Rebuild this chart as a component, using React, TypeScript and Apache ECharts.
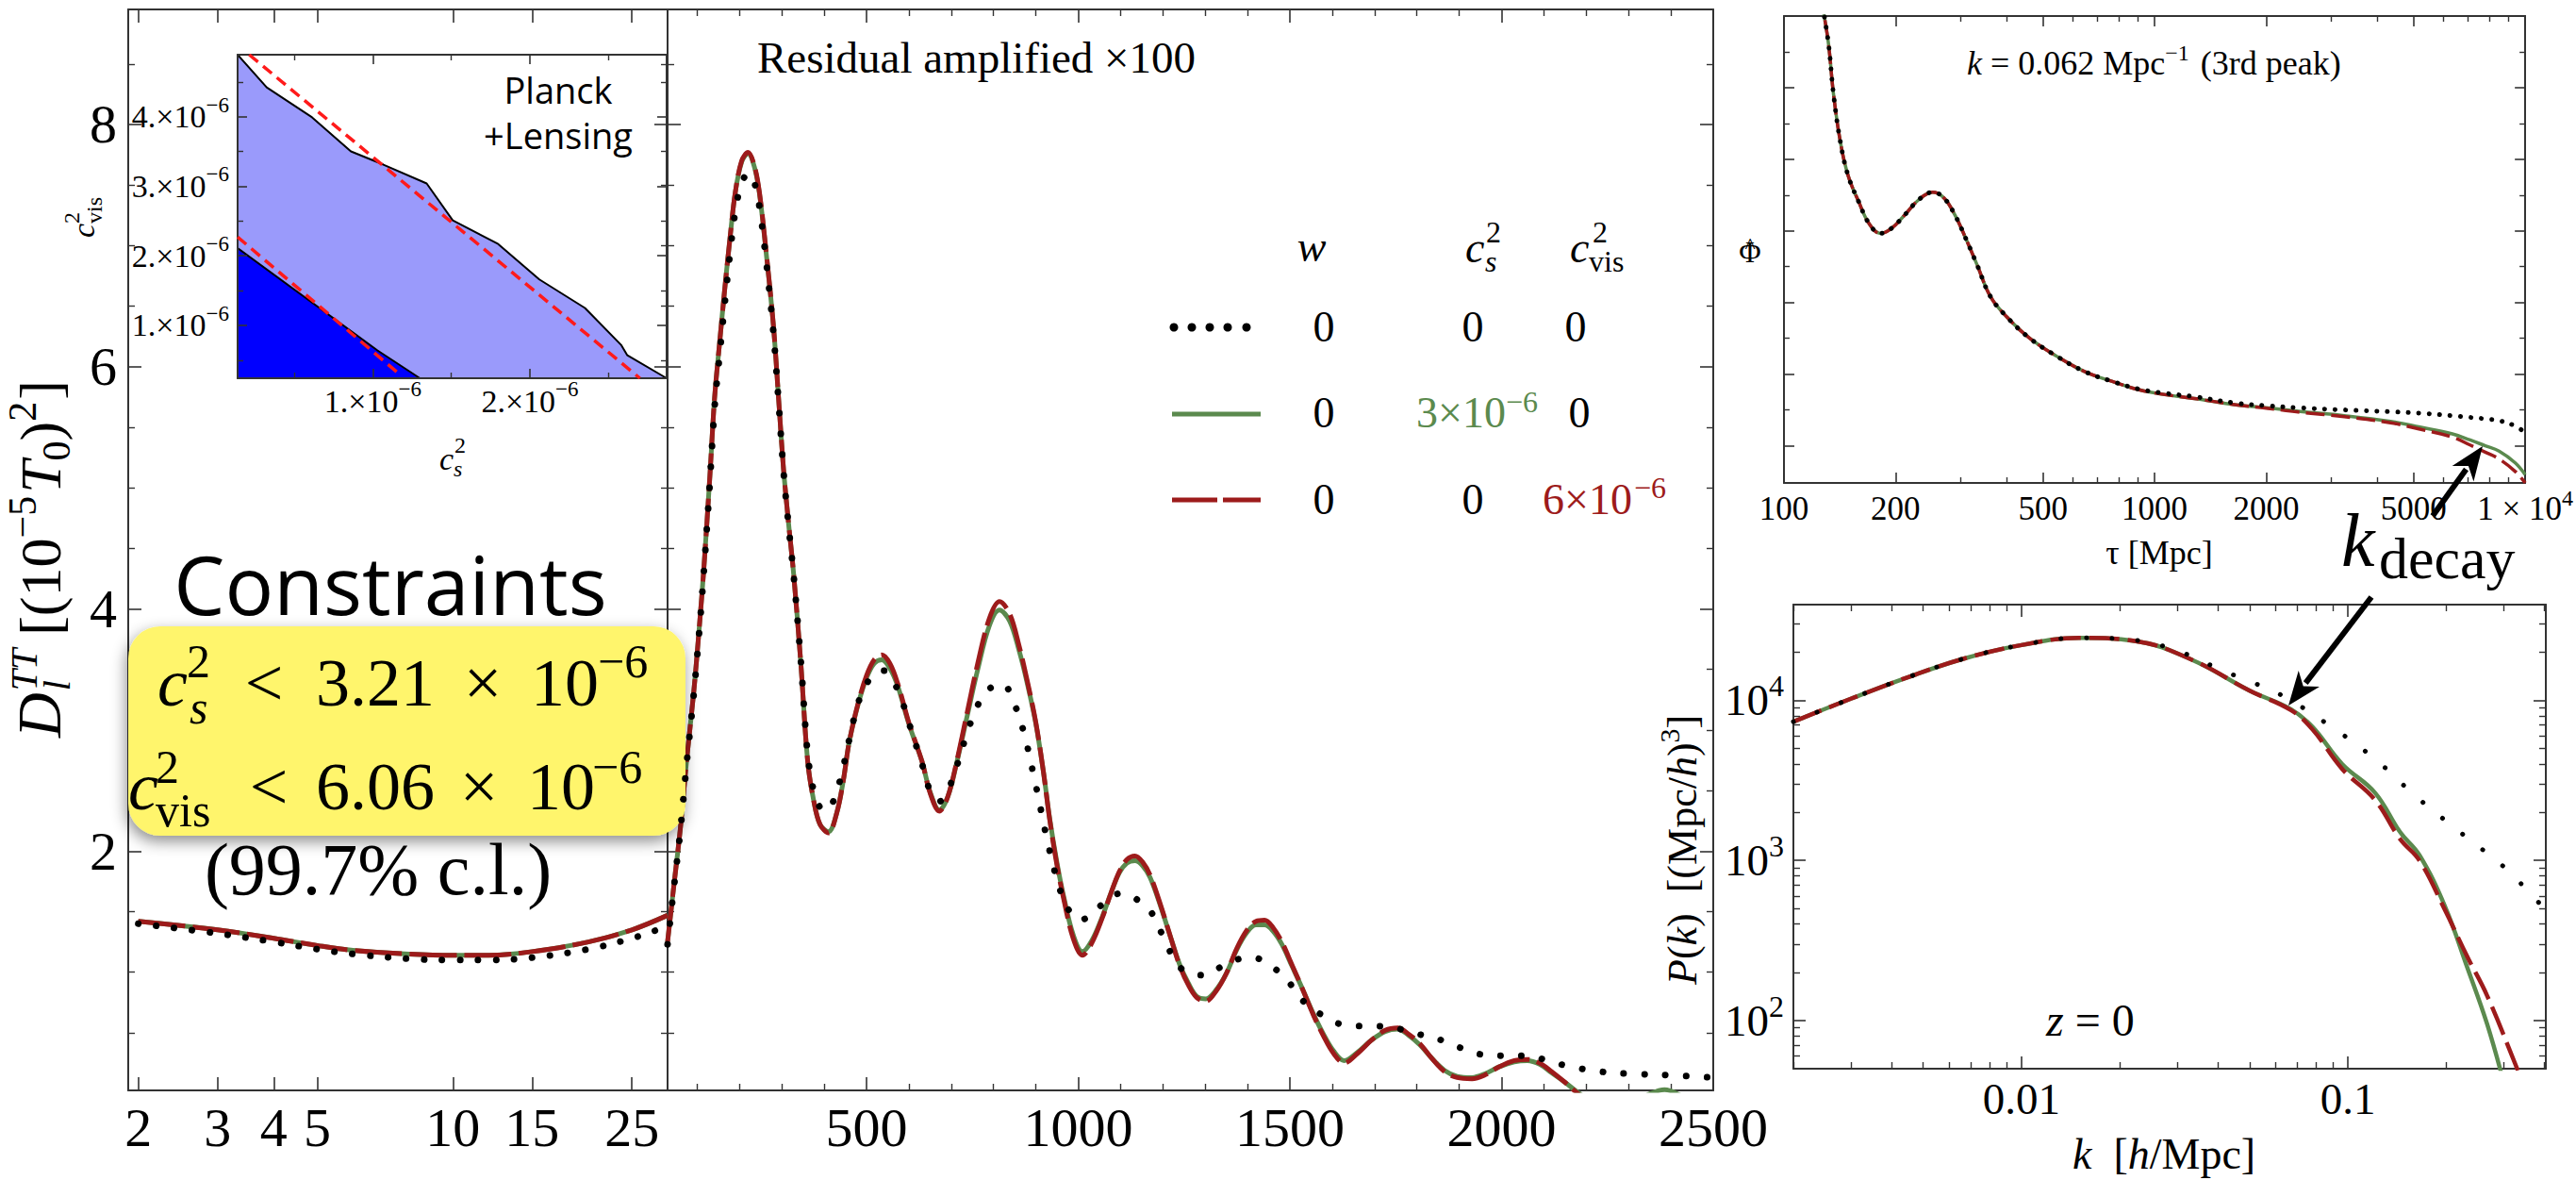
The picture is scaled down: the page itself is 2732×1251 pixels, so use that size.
import React, { useEffect, useRef } from "react";
import * as echarts from "echarts";

const W = 2732;
const H = 1251;
const SERIF = "'Liberation Serif', 'Times New Roman', serif";
const SANS = "'Open Sans', 'Liberation Sans', Arial, sans-serif";
const FRAME = "#333333";
const RED = "#9d1b1b";
const GREEN = "#5b8a4e";
const BLACK = "#000000";

// ---------------- CMB TT spectrum, low-ℓ part (log ℓ axis), units (1e-5 T0)^2
const ELL_LOW = [2, 3, 4, 5, 6, 8, 10, 12, 15, 20, 25, 30];
const DL_LOW_GREEN = [1.42, 1.35, 1.28, 1.22, 1.18, 1.15, 1.14, 1.14, 1.17, 1.25, 1.35, 1.47];
const DL_LOW_RED = [1.42, 1.35, 1.28, 1.22, 1.18, 1.15, 1.14, 1.14, 1.17, 1.25, 1.35, 1.47];
const DL_LOW_BLACK = [1.4, 1.32, 1.25, 1.19, 1.15, 1.11, 1.1, 1.1, 1.12, 1.19, 1.28, 1.38];

// ---------------- CMB TT spectrum, high-ℓ part (linear ℓ axis)
const ELL_HIGH = [
  30, 45, 60, 75, 92, 105, 116, 130, 141, 153,
  165, 178, 190, 205, 220, 235, 247, 262, 280, 292,
  304, 316, 328, 345, 361, 375, 390, 410, 430, 445,
  459, 480, 500, 518, 536, 555, 574, 600, 631, 650,
  672, 692, 713, 738, 762, 790, 814, 838, 860, 880,
  900, 918, 933, 950, 966, 988, 1010, 1032, 1056, 1077,
  1097, 1115, 1134, 1152, 1170, 1195, 1219, 1240, 1260, 1280,
  1301, 1325, 1350, 1375, 1399, 1420, 1440, 1460, 1481, 1505,
  1530, 1555, 1579, 1603, 1628, 1660, 1693, 1725, 1755, 1780,
  1807, 1835, 1865, 1895, 1930, 1960, 1995, 2030, 2061, 2090,
  2118, 2150, 2183, 2220, 2260, 2300, 2340, 2385, 2430, 2470,
  2500,
];
const DL_HIGH_RED = [
  1.25, 1.72, 2.18, 2.75, 3.32, 3.85, 4.35, 5.1, 5.74, 6.2,
  6.64, 7.08, 7.44, 7.7, 7.77, 7.66, 7.44, 6.98, 6.34, 5.75,
  5.15, 4.7, 4.28, 3.54, 2.74, 2.42, 2.22, 2.15, 2.32, 2.58,
  2.9, 3.22, 3.45, 3.58, 3.62, 3.55, 3.38, 3.06, 2.74, 2.48,
  2.33, 2.45, 2.74, 3.15, 3.54, 3.92, 4.06, 3.96, 3.7, 3.4,
  3.06, 2.65, 2.25, 1.88, 1.6, 1.28, 1.14, 1.24, 1.44, 1.65,
  1.83, 1.93, 1.96, 1.91, 1.8, 1.55, 1.28, 1.05, 0.895, 0.79,
  0.76, 0.84, 0.99, 1.2, 1.35, 1.42, 1.43, 1.37, 1.25, 1.06,
  0.86, 0.65, 0.475, 0.33, 0.25, 0.33, 0.44, 0.52, 0.54, 0.49,
  0.41, 0.29, 0.18, 0.13, 0.12, 0.15, 0.22, 0.27, 0.28, 0.25,
  0.18, 0.09, -0.01, -0.1, -0.14, -0.1, -0.05, -0.02, -0.06, -0.12,
  -0.15,
];
const DL_HIGH_GREEN = [
  1.25, 1.72, 2.18, 2.75, 3.32, 3.85, 4.35, 5.1, 5.74, 6.2,
  6.64, 7.08, 7.44, 7.69, 7.76, 7.65, 7.43, 6.97, 6.34, 5.75,
  5.15, 4.7, 4.28, 3.54, 2.74, 2.42, 2.22, 2.16, 2.32, 2.58,
  2.9, 3.21, 3.43, 3.55, 3.58, 3.51, 3.36, 3.05, 2.74, 2.49,
  2.34, 2.45, 2.73, 3.12, 3.49, 3.86, 3.99, 3.9, 3.66, 3.38,
  3.05, 2.65, 2.26, 1.9, 1.62, 1.31, 1.17, 1.26, 1.45, 1.65,
  1.82, 1.9, 1.92, 1.88, 1.78, 1.54, 1.28, 1.06, 0.91, 0.8,
  0.78, 0.85, 0.99, 1.19, 1.33, 1.39, 1.39, 1.34, 1.23, 1.05,
  0.86, 0.66, 0.49, 0.35, 0.27, 0.34, 0.44, 0.51, 0.53, 0.48,
  0.4, 0.29, 0.19, 0.14, 0.13, 0.16, 0.22, 0.26, 0.27, 0.24,
  0.17, 0.09, 0.0, -0.08, -0.11, -0.08, -0.02, 0.03, -0.03, -0.1,
  -0.14,
];
const ELL_HIGH_BLACK = [
  30, 45, 60, 75, 92, 105, 116, 130, 141, 153,
  165, 178, 190, 205, 222, 235, 247, 262, 280, 292,
  304, 316, 328, 345, 361, 375, 390, 402, 420, 440,
  459, 480, 500, 520, 541, 560, 580, 600, 631, 650,
  672, 692, 713, 738, 762, 790, 822, 845, 870, 900,
  930, 958, 980, 1003, 1030, 1056, 1080, 1101, 1125, 1150,
  1170, 1200, 1235, 1265, 1301, 1335, 1370, 1415, 1450, 1489,
  1515, 1541, 1579, 1620, 1660, 1700, 1741, 1790, 1857, 1900,
  1938, 2000, 2061, 2100, 2150, 2232, 2313, 2395, 2500,
];
const DL_HIGH_BLACK = [
  1.23, 1.7, 2.16, 2.72, 3.3, 3.82, 4.32, 5.05, 5.66, 6.1,
  6.52, 6.95, 7.28, 7.52, 7.6, 7.52, 7.32, 6.9, 6.28, 5.72,
  5.13, 4.68, 4.27, 3.56, 2.8, 2.5, 2.36, 2.33, 2.4, 2.62,
  2.92, 3.22, 3.38, 3.47, 3.49, 3.42, 3.28, 3.06, 2.72, 2.5,
  2.41, 2.5, 2.7, 2.98, 3.2, 3.34, 3.38, 3.25, 3.0, 2.54,
  2.04, 1.67, 1.5, 1.43, 1.47, 1.56, 1.63, 1.65, 1.63, 1.57,
  1.51, 1.3, 1.06, 0.99, 0.975, 1.04, 1.1, 1.12, 1.06, 0.96,
  0.83, 0.73, 0.64, 0.57, 0.555, 0.555, 0.545, 0.5, 0.44, 0.38,
  0.33, 0.31, 0.31, 0.28, 0.23, 0.18, 0.16, 0.15, 0.13,
];

// ---------------- inset: Planck+Lensing constraints (units of 1e-6)
const OUTER_CS2 = [0.14, 0.325, 0.614, 0.861, 1.068, 1.343, 1.509, 1.798, 2.06, 2.35, 2.58, 2.62, 2.87];
const OUTER_CVIS2 = [4.89, 4.42, 3.99, 3.5, 3.31, 3.04, 2.51, 2.17, 1.66, 1.25, 0.72, 0.57, 0.24];
const INNER_CS2 = [0.14, 1.03, 1.3];
const INNER_CVIS2 = [2.11, 0.64, 0.24];
const FIT_UPPER_CS2 = [0.214, 2.7];
const FIT_UPPER_CVIS2 = [4.89, 0.24];
const FIT_LOWER_CS2 = [0.14, 1.18];
const FIT_LOWER_CVIS2 = [2.27, 0.28];

// ---------------- potential Φ̂(τ), k = 0.062 Mpc^-1 (arbitrary units)
const TAU = [120, 128, 132, 136, 142, 149, 159, 170, 182, 195, 212, 231, 252, 270, 289, 310, 332, 361, 400, 458, 544, 645, 766, 909, 1078, 1280, 1660, 2000, 2440, 3250, 4330, 5200, 6360, 7100, 7800, 8500, 9400, 10000];
const PHI_RED = [1.4, 1.21, 1.119, 0.983, 0.848, 0.754, 0.682, 0.619, 0.593, 0.607, 0.645, 0.687, 0.708, 0.692, 0.645, 0.577, 0.505, 0.416, 0.359, 0.302, 0.25, 0.208, 0.18, 0.156, 0.142, 0.132, 0.114, 0.105, 0.094, 0.081, 0.064, 0.046, 0.024, 0.002, -0.018, -0.037, -0.072, -0.104];
const PHI_GREEN = [1.4, 1.21, 1.119, 0.983, 0.848, 0.754, 0.682, 0.619, 0.593, 0.607, 0.645, 0.687, 0.708, 0.692, 0.645, 0.577, 0.505, 0.416, 0.359, 0.302, 0.25, 0.208, 0.18, 0.156, 0.142, 0.132, 0.114, 0.106, 0.096, 0.084, 0.068, 0.052, 0.033, 0.016, 0.0, -0.015, -0.048, -0.081];
const PHI_BLACK = [1.4, 1.21, 1.119, 0.983, 0.848, 0.754, 0.682, 0.619, 0.593, 0.607, 0.645, 0.687, 0.708, 0.692, 0.645, 0.577, 0.505, 0.416, 0.359, 0.302, 0.25, 0.208, 0.18, 0.158, 0.146, 0.137, 0.119, 0.112, 0.106, 0.1, 0.095, 0.091, 0.084, 0.079, 0.075, 0.07, 0.055, 0.036];

// ---------------- matter power spectrum P(k), z = 0
const PK_K = [0.002, 0.003, 0.0045, 0.0067, 0.01, 0.015, 0.0224, 0.0335, 0.05, 0.0669, 0.078, 0.096, 0.121, 0.1446, 0.1656, 0.198, 0.232, 0.267, 0.33, 0.404];
const PK_RED = [7350, 10230, 13960, 18280, 22130, 24550, 23440, 17800, 11480, 8680, 6550, 3730, 2390, 1358, 1000, 493, 251, 143, 50, 18];
const PK_GREEN = [7350, 10230, 13960, 18280, 22130, 24550, 23440, 17800, 11480, 8800, 6800, 4000, 2650, 1500, 1080, 520, 215, 95, 22, 8];
const PK_K_BLACK = [0.002, 0.003, 0.0045, 0.0067, 0.01, 0.015, 0.0224, 0.0318, 0.0408, 0.0517, 0.064, 0.0884, 0.121, 0.162, 0.212, 0.261, 0.314, 0.372, 0.404];
const PK_BLACK = [7350, 10230, 13960, 18280, 22130, 24550, 23700, 19500, 15500, 12800, 10500, 6900, 4300, 2500, 1600, 1150, 840, 583, 495];

// ---------------- tick values
const LOW_ELL_TICKS = [2, 3, 4, 5, 10, 15, 25];
const HIGH_ELL_TICKS = [500, 1000, 1500, 2000, 2500];
const HIGH_ELL_MINOR = [100, 200, 300, 400, 600, 700, 800, 900, 1100, 1200, 1300, 1400, 1600, 1700, 1800, 1900, 2100, 2200, 2300, 2400];
const DL_TICKS = [2, 4, 6, 8];
const DL_MINOR = [0.5, 1, 1.5, 2.5, 3, 3.5, 4.5, 5, 5.5, 6.5, 7, 7.5, 8.5];
const CS2_TICKS = [1, 2];
const CS2_MINOR = [0.5, 1.5, 2.5];
const CVIS2_TICKS = [1, 2, 3, 4];
const CVIS2_MINOR = [0.5, 1.5, 2.5, 3.5, 4.5];
const TAU_TICKS = [100, 200, 500, 1000, 2000, 5000, 10000];
const TAU_MINOR = [300, 400, 600, 700, 800, 900, 3000, 4000, 6000, 7000, 8000, 9000];
const PHI_TICKS = [0, 0.2, 0.4, 0.6, 0.8, 1.0, 1.2];
const PHI_MINOR = [0.1, 0.3, 0.5, 0.7, 0.9, 1.1];
const K_TICKS = [0.01, 0.1];
const K_TICK_LABELS = ["0.01", "0.1"];
const K_MINOR = [0.002, 0.003, 0.004, 0.005, 0.006, 0.007, 0.008, 0.009, 0.02, 0.03, 0.04, 0.05, 0.06, 0.07, 0.08, 0.09, 0.2, 0.3, 0.4];
const P_TICKS = [100, 1000, 10000];
const P_MINOR = [60, 70, 80, 90, 200, 300, 400, 500, 600, 700, 800, 900, 2000, 3000, 4000, 5000, 6000, 7000, 8000, 9000, 20000, 30000];

// ---------------- helpers
let ctx2d: CanvasRenderingContext2D | null = null;
function measure(t: string, size: number, family: string, italic: boolean) {
  if (!ctx2d) ctx2d = document.createElement("canvas").getContext("2d");
  ctx2d!.font = `${italic ? "italic " : ""}${size}px ${family}`;
  return ctx2d!.measureText(t).width;
}

function txt(t: string, x: number, baseline: number, size: number, o: any = {}) {
  const fam = o.family ?? SERIF;
  const k = fam === SANS ? 0.32 : 0.3375;
  const align = o.align ?? "left";
  return {
    type: "text",
    z: o.z ?? 6,
    x,
    y: baseline - k * size,
    silent: true,
    style: {
      text: t,
      fontSize: size,
      fontFamily: fam,
      fontStyle: o.italic ? "italic" : "normal",
      fontWeight: "normal",
      fill: o.color ?? "#000",
      align,
      textAlign: align,
      verticalAlign: "middle",
      textVerticalAlign: "middle",
    },
  };
}

type Piece = { t: string; s: number; it?: boolean; rise?: number; c?: string; f?: string; dx?: number; stack?: boolean };
function run(pieces: Piece[], x0: number, base: number) {
  const out: any[] = [];
  let x = x0;
  let stackW = 0;
  for (const p of pieces) {
    const fam = p.f ?? SERIF;
    x += p.dx ?? 0;
    const w = measure(p.t, p.s, fam, !!p.it);
    out.push(txt(p.t, x, base - (p.rise ?? 0), p.s, { italic: p.it, color: p.c, family: fam }));
    if (p.stack) stackW = w;
    else {
      x += Math.max(w, stackW);
      stackW = 0;
    }
  }
  return out;
}

function arrow(x1: number, y1: number, x2: number, y2: number) {
  const dx = x2 - x1, dy = y2 - y1;
  const len = Math.hypot(dx, dy);
  const ux = dx / len, uy = dy / len;
  const hl = 36, hw = 14;
  const bx = x2 - ux * hl, by = y2 - uy * hl;
  return [
    { type: "line", z: 7, silent: true, shape: { x1, y1, x2: bx + ux * 6, y2: by + uy * 6 }, style: { stroke: "#000", lineWidth: 6 } },
    {
      type: "polygon", z: 7, silent: true,
      shape: { points: [[x2, y2], [bx - uy * hw, by + ux * hw], [x2 - ux * hl * 0.72, y2 - uy * hl * 0.72], [bx + uy * hw, by - ux * hw]] },
      style: { fill: "#000" },
    },
  ];
}

function buildOption() {
  const L = Math.log10;
  const xs: any[] = [];
  const ys: any[] = [];

  const grid = [
    { left: 136, top: 10, width: 572, height: 1146 },
    { left: 708, top: 10, width: 1109, height: 1146 },
    { left: 252, top: 58, width: 455, height: 343 },
    { left: 1892, top: 17, width: 803, height: 495 },
    { left: 1902, top: 641, width: 798, height: 492 },
  ];

  function axes(list: any[], gi: number, pos: string[], min: number, max: number, major: number[], minor: number[] | null, o: any = {}) {
    const idx = list.length;
    pos.forEach((p, side) => {
      list.push({
        type: "value", gridIndex: gi, position: p, offset: 0, min, max, scale: true, silent: true, z: 3,
        axisLine: { show: true, onZero: false, lineStyle: { color: FRAME, width: 2 } },
        axisTick: { show: true, inside: true, length: o.majorLen ?? 14, customValues: major, lineStyle: { color: FRAME, width: 1.6 } },
        axisLabel: side === 0 && o.label ? { show: true, customValues: major, ...o.label } : { show: false },
        splitLine: { show: false },
        splitArea: { show: false },
        axisPointer: { show: false },
      });
      if (minor && minor.length) {
        list.push({
          type: "value", gridIndex: gi, position: p, offset: 0, min, max, scale: true, silent: true, z: 3,
          axisLine: { show: false, onZero: false },
          axisTick: { show: true, inside: true, length: o.minorLen ?? 7, customValues: minor, lineStyle: { color: FRAME, width: 1.4 } },
          axisLabel: { show: false },
          splitLine: { show: false },
          axisPointer: { show: false },
        });
      }
    });
    return idx;
  }
  const plain = (size: number, margin: number, formatter?: any) => ({
    fontFamily: SERIF, fontSize: size, color: "#000", margin, formatter: formatter ?? ((v: number) => String(v)),
  });
  const Y_MIN = 0.024, Y_MAX = 8.95;

  // grid 0: low ℓ
  const x0 = xs.length;
  xs.push({ type: "log", logBase: 10, gridIndex: 0, min: 1.9, max: 30, show: false });
  axes(xs, 0, ["bottom", "top"], L(1.9), L(30), LOW_ELL_TICKS.map(L), null, {
    label: plain(58, 10, (v: number) => String(Math.round(Math.pow(10, v)))),
  });
  const y0 = axes(ys, 0, ["left", "right"], Y_MIN, Y_MAX, DL_TICKS, DL_MINOR, { label: plain(58, 12) });

  // grid 1: high ℓ
  const x1 = axes(xs, 1, ["bottom", "top"], 30, 2500, HIGH_ELL_TICKS, HIGH_ELL_MINOR, { label: plain(58, 10) });
  const y1 = axes(ys, 1, ["left", "right"], Y_MIN, Y_MAX, DL_TICKS, DL_MINOR, {});

  // grid 2: inset
  const insetRich = {
    b: { fontFamily: SERIF, fontSize: 34, color: "#000", lineHeight: 48 },
    s: { fontFamily: SERIF, fontSize: 23, color: "#000", lineHeight: 23, verticalAlign: "top" },
  };
  const insetFmt = (v: number) => `{b|${Math.round(v)}.×10}{s|−6}`;
  const x2 = axes(xs, 2, ["bottom", "top"], 0.14, 2.87, CS2_TICKS, CS2_MINOR, {
    majorLen: 10, minorLen: 6, label: { ...plain(34, 0, insetFmt), rich: insetRich },
  });
  const y2 = axes(ys, 2, ["left", "right"], 0.24, 4.89, CVIS2_TICKS, CVIS2_MINOR, {
    majorLen: 10, minorLen: 6, label: { ...plain(34, 9, insetFmt), rich: insetRich },
  });

  // grid 3: Φ(τ)
  const x3 = xs.length;
  xs.push({ type: "log", logBase: 10, gridIndex: 3, min: 100, max: 10000, show: false });
  axes(xs, 3, ["bottom", "top"], 2, 4, TAU_TICKS.map(L), TAU_MINOR.map(L), {
    majorLen: 11, minorLen: 6,
    label: {
      ...plain(35, 4, (v: number) => {
        const t = Math.round(Math.pow(10, v));
        return t === 10000 ? "{b|1 × 10}{s|4}" : `{b|${t}}`;
      }),
      rich: {
        b: { fontFamily: SERIF, fontSize: 35, color: "#000", lineHeight: 46 },
        s: { fontFamily: SERIF, fontSize: 24, color: "#000", lineHeight: 24, verticalAlign: "top" },
      },
    },
  });
  const y3 = axes(ys, 3, ["left", "right"], -0.104, 1.2, PHI_TICKS, PHI_MINOR, { majorLen: 11, minorLen: 6 });

  // grid 4: P(k)
  const x4 = xs.length;
  xs.push({ type: "log", logBase: 10, gridIndex: 4, min: 0.002, max: 0.404, show: false });
  const y4 = ys.length;
  ys.push({ type: "log", logBase: 10, gridIndex: 4, min: 50, max: 39600, show: false });
  axes(xs, 4, ["bottom", "top"], L(0.002), L(0.404), K_TICKS.map(L), K_MINOR.map(L), {
    majorLen: 13, minorLen: 7,
    label: plain(47, 8, (v: number) => {
      let best = 0;
      K_TICKS.forEach((k, i) => { if (Math.abs(L(k) - v) < Math.abs(L(K_TICKS[best]) - v)) best = i; });
      return K_TICK_LABELS[best];
    }),
  });
  axes(ys, 4, ["left", "right"], L(50), L(39600), P_TICKS.map(L), P_MINOR.map(L), {
    majorLen: 13, minorLen: 7,
    label: {
      ...plain(47, 10, (v: number) => `{b|10}{s|${Math.round(v)}}`),
      rich: {
        b: { fontFamily: SERIF, fontSize: 47, color: "#000", lineHeight: 62 },
        s: { fontFamily: SERIF, fontSize: 32, color: "#000", lineHeight: 32, verticalAlign: "top" },
      },
    },
  });

  const curve = (xi: number, yi: number, xv: number[], yv: number[], color: string, width: number, dash: any, z: number, smooth = 0.35) => {
    const dotted = Array.isArray(dash) && dash[0] < 1;
    return {
      type: "line", xAxisIndex: xi, yAxisIndex: yi,
      data: xv.map((x, i) => [x, yv[i]]),
      symbol: "none", showSymbol: false, smooth, clip: true, silent: true, z,
      lineStyle: { color, width, type: dash ?? "solid", cap: dotted ? "round" : "butt", join: "round" },
      emphasis: { disabled: true },
    };
  };
  const pairs = (a: number[], b: number[]) => a.map((x, i) => [x, b[i]]);

  const series: any[] = [
    // low ℓ
    curve(x0, y0, ELL_LOW, DL_LOW_GREEN, GREEN, 5, "solid", 3),
    curve(x0, y0, ELL_LOW, DL_LOW_RED, RED, 5, [50, 8], 4),
    curve(x0, y0, ELL_LOW, DL_LOW_BLACK, BLACK, 7, [0.1, 19], 5),
    // high ℓ
    curve(x1, y1, ELL_HIGH, DL_HIGH_GREEN, GREEN, 5, "solid", 3),
    curve(x1, y1, ELL_HIGH, DL_HIGH_RED, RED, 5, [40, 8], 4),
    curve(x1, y1, ELL_HIGH_BLACK, DL_HIGH_BLACK, BLACK, 7, [0.1, 22], 5),
    // inset
    {
      type: "line", xAxisIndex: x2, yAxisIndex: y2, data: pairs(OUTER_CS2, OUTER_CVIS2),
      symbol: "none", smooth: false, silent: true, z: 2,
      lineStyle: { color: "#000", width: 2 },
      areaStyle: { color: "#9a9afb", opacity: 1, origin: "start" },
    },
    {
      type: "line", xAxisIndex: x2, yAxisIndex: y2, data: pairs(INNER_CS2, INNER_CVIS2),
      symbol: "none", smooth: false, silent: true, z: 2,
      lineStyle: { color: "#000", width: 2 },
      areaStyle: { color: "#0000ff", opacity: 1, origin: "start" },
    },
    {
      type: "line", xAxisIndex: x2, yAxisIndex: y2, data: pairs(FIT_UPPER_CS2, FIT_UPPER_CVIS2),
      symbol: "none", silent: true, z: 3, lineStyle: { color: "#ff1a1a", width: 3.5, type: [12, 7] },
    },
    {
      type: "line", xAxisIndex: x2, yAxisIndex: y2, data: pairs(FIT_LOWER_CS2, FIT_LOWER_CVIS2),
      symbol: "none", silent: true, z: 3, lineStyle: { color: "#ff1a1a", width: 3.5, type: [12, 7] },
    },
    // Φ(τ)
    curve(x3, y3, TAU, PHI_GREEN, GREEN, 3.5, "solid", 3, 0.4),
    curve(x3, y3, TAU, PHI_RED, RED, 3.5, [20, 7], 4, 0.4),
    curve(x3, y3, TAU, PHI_BLACK, BLACK, 5, [0.1, 11], 5, 0.4),
    // P(k)
    curve(x4, y4, PK_K, PK_GREEN, GREEN, 4.5, "solid", 3, 0.4),
    curve(x4, y4, PK_K, PK_RED, RED, 4.5, [32, 9], 4, 0.4),
    curve(x4, y4, PK_K_BLACK, PK_BLACK, BLACK, 5, [0.1, 27], 5, 0.4),
  ];

  // ---------------- graphics (annotations)
  const G: any[] = [];
  // yellow constraints box
  G.push({
    type: "rect", z: 5, silent: true,
    shape: { x: 136, y: 664, width: 591, height: 222, r: 34 },
    style: { fill: "#fff56c", shadowBlur: 16, shadowColor: "rgba(0,0,0,0.45)", shadowOffsetX: -2, shadowOffsetY: 6 },
  });
  G.push(txt("Constraints", 414, 646, 86, { family: SANS, align: "center" }));
  G.push(txt("c", 167, 748, 72, { italic: true }));
  G.push(txt("2", 198, 718, 50));
  G.push(txt("s", 201, 767, 50, { italic: true }));
  G.push(txt("<", 280, 748, 72, { align: "center" }));
  G.push(txt("3.21", 335, 748, 72));
  G.push(txt("×", 512, 748, 72, { align: "center" }));
  G.push(txt("10", 563, 748, 72));
  G.push(txt("−6", 634, 718, 50));
  G.push(txt("c", 136, 858, 72, { italic: true }));
  G.push(txt("2", 165, 830, 50));
  G.push(txt("vis", 165, 876, 50));
  G.push(txt("<", 285, 858, 72, { align: "center" }));
  G.push(txt("6.06", 335, 858, 72));
  G.push(txt("×", 508, 858, 72, { align: "center" }));
  G.push(txt("10", 559, 858, 72));
  G.push(txt("−6", 628, 830, 50));
  G.push(txt("(99.7% c.l.)", 401, 948, 78, { align: "center" }));

  // main y-axis title (rotated)
  G.push({
    type: "group", x: 64, y: 782, rotation: Math.PI / 2, silent: true,
    children: run([
      { t: "D", s: 66, it: true },
      { t: "TT", s: 40, it: true, rise: 25, stack: true, dx: 2 },
      { t: "l", s: 40, it: true, rise: -10 },
      { t: "[(10", s: 62, dx: 14 },
      { t: "−5", s: 42, rise: 26 },
      { t: "T", s: 62, it: true, dx: 3 },
      { t: "0", s: 42, rise: -10 },
      { t: ")", s: 62 },
      { t: "2", s: 42, rise: 26 },
      { t: "]", s: 62, dx: 2 },
    ], 0, 0),
  });

  // middle panel annotation + legend
  G.push(txt("Residual amplified ×100", 803, 77, 47));
  G.push(txt("w", 1391, 277, 46, { italic: true, align: "center" }));
  G.push(txt("c", 1554, 278, 46, { italic: true }));
  G.push(txt("2", 1576, 257, 32));
  G.push(txt("s", 1575, 288, 32, { italic: true }));
  G.push(txt("c", 1665, 278, 46, { italic: true }));
  G.push(txt("2", 1689, 257, 32));
  G.push(txt("vis", 1685, 288, 32));
  [1245, 1264, 1283, 1302, 1322].forEach((cx) =>
    G.push({ type: "circle", z: 6, silent: true, shape: { cx, cy: 347, r: 4.5 }, style: { fill: "#000" } })
  );
  G.push({ type: "line", z: 6, silent: true, shape: { x1: 1243, y1: 439, x2: 1337, y2: 439 }, style: { stroke: GREEN, lineWidth: 5 } });
  G.push({ type: "line", z: 6, silent: true, shape: { x1: 1243, y1: 530, x2: 1291, y2: 530 }, style: { stroke: RED, lineWidth: 5 } });
  G.push({ type: "line", z: 6, silent: true, shape: { x1: 1297, y1: 530, x2: 1337, y2: 530 }, style: { stroke: RED, lineWidth: 5 } });
  G.push(txt("0", 1404, 362, 46, { align: "center" }));
  G.push(txt("0", 1562, 362, 46, { align: "center" }));
  G.push(txt("0", 1671, 362, 46, { align: "center" }));
  G.push(txt("0", 1404, 453, 46, { align: "center" }));
  G.push(txt("3×10", 1502, 453, 46, { color: GREEN }));
  G.push(txt("−6", 1597, 437, 32, { color: GREEN }));
  G.push(txt("0", 1675, 453, 46, { align: "center" }));
  G.push(txt("0", 1404, 545, 46, { align: "center" }));
  G.push(txt("0", 1562, 545, 46, { align: "center" }));
  G.push(txt("6×10", 1636, 545, 46, { color: RED }));
  G.push(txt("−6", 1733, 528, 32, { color: RED }));
  G.push(txt("ℓ", 812, 1292, 60, { italic: true, align: "center" }));

  // inset annotations
  G.push(txt("Planck", 592, 107, 38, { family: SANS, align: "center" }));
  G.push(txt("+Lensing", 592, 155, 38, { family: SANS, align: "center" }));
  G.push(txt("c", 466, 498, 34, { italic: true }));
  G.push(txt("2", 482, 480, 24));
  G.push(txt("s", 481, 505, 24, { italic: true }));
  G.push({
    type: "group", x: 100, y: 252, rotation: Math.PI / 2, silent: true,
    children: run([
      { t: "c", s: 34, it: true },
      { t: "2", s: 24, rise: 16, stack: true },
      { t: "vis", s: 24, rise: -8 },
    ], 0, 0),
  });

  // Φ panel annotations
  G.push(...run([
    { t: "k", s: 36, it: true },
    { t: " = 0.062 Mpc", s: 36 },
    { t: "−1", s: 24, rise: 15 },
    { t: " (3rd peak)", s: 36, dx: 3 },
  ], 2086, 79));
  G.push(txt("τ [Mpc]", 2290, 598, 36, { align: "center" }));
  G.push(txt("Φ", 1856, 278, 32, { align: "center" }));
  G.push(txt("^", 1856, 268, 24, { align: "center" }));
  G.push(txt("k", 2483, 600, 80, { italic: true }));
  G.push(txt("decay", 2523, 613, 62));
  G.push(...arrow(2580, 547, 2633, 473));
  G.push(...arrow(2515, 633, 2427, 748));

  // P(k) panel annotations
  G.push(...run([
    { t: "z", s: 48, it: true },
    { t: " = 0", s: 48 },
  ], 2170, 1098));
  G.push(...run([
    { t: "k", s: 46, it: true },
    { t: "  [", s: 46 },
    { t: "h", s: 46, it: true },
    { t: "/Mpc]", s: 46 },
  ], 2198, 1239));
  G.push({
    type: "group", x: 1799, y: 1044, rotation: Math.PI / 2, silent: true,
    children: run([
      { t: "P", s: 44, it: true },
      { t: "(", s: 44 },
      { t: "k", s: 44, it: true },
      { t: ")", s: 44 },
      { t: "  [(Mpc/", s: 44 },
      { t: "h", s: 44, it: true },
      { t: ")", s: 44 },
      { t: "3", s: 30, rise: 18 },
      { t: "]", s: 44 },
    ], 0, 0),
  });

  return {
    animation: false,
    backgroundColor: "#ffffff",
    grid,
    xAxis: xs,
    yAxis: ys,
    series,
    graphic: { elements: G },
  };
}

export default function App() {
  const ref = useRef<HTMLDivElement>(null);
  useEffect(() => {
    document.body.style.margin = "0";
    const el = ref.current!;
    const chart = echarts.init(el, null, { renderer: "svg", width: W, height: H });
    chart.setOption(buildOption() as any);
    return () => chart.dispose();
  }, []);
  return <div ref={ref} style={{ width: W, height: H, background: "#ffffff", overflow: "hidden" }} />;
}
